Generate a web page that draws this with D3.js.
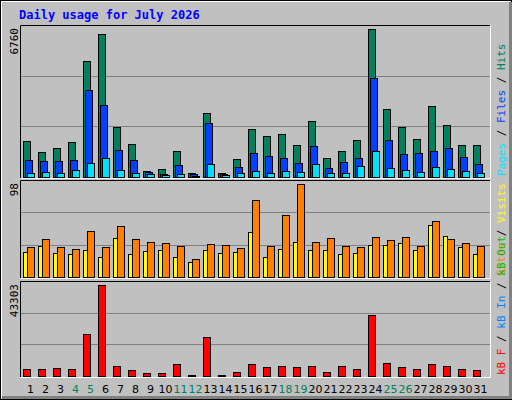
<!DOCTYPE html>
<html><head><meta charset="utf-8">
<script src="https://cdn.jsdelivr.net/npm/d3@7"></script>
<style>body{margin:0;background:#fff}svg{display:block}</style>
</head><body><svg id="c" width="512" height="400"></svg>
<script>
const days = d3.range(1,32).map(String);
const weekend = ["4","5","11","12","18","19","25","26"];
const hits  = [1630,1130,1310,1585,5290,6520,2270,1495,260,350,1175,170,2910,170,810,2180,1860,1950,1450,2545,855,1175,1675,6760,3095,2270,1720,3230,2360,1450,1450];
const files = [760,720,720,760,3960,3280,1220,760,215,130,535,130,2455,130,445,1085,945,855,625,1400,400,670,855,4510,1675,1040,1085,1175,1310,900,580];
const pages = [170,215,170,305,625,855,305,170,130,100,130,60,580,100,170,260,170,260,215,580,170,170,490,1175,400,305,215,445,350,260,170];
const visits= [26,33,25,24,28,21,41,24,27,28,21,16,28,25,26,47,21,30,37,28,28,24,25,34,34,36,28,55,43,32,24];
const sites = [32,40,32,30,48,32,54,40,37,36,33,19,35,34,31,81,33,65,98,37,41,33,32,42,39,42,33,59,40,36,33];
const kbF   = [3480,3480,3950,3480,20070,43303,4900,3000,1580,1580,5850,630,18650,630,2050,5850,4425,4900,4425,4900,2050,4900,3480,29080,6320,4425,3480,5850,4900,3480,3000];
const maxLabels = ["6760","98","43303"];

const svg = d3.select("#c");
// outer frame
svg.append("rect").attr("x",0).attr("y",0).attr("width",512).attr("height",400).attr("fill","#000");
svg.append("rect").attr("x",1).attr("y",1).attr("width",510).attr("height",398).attr("fill","#c0c0c0");
svg.append("path").attr("d","M1.5,398.5V1.5H510.5").attr("stroke","#fff").attr("fill","none");
svg.append("path").attr("d","M2,397.5H510.5V2").attr("stroke","#808080").attr("stroke-width",3).attr("fill","none");

svg.append("text").attr("x",19).attr("y",19).text("Daily usage for July 2026")
  .attr("font-family","DejaVu Sans Mono").attr("font-weight","bold").attr("font-size",12).attr("fill","#0000ff");

const x = d3.scaleBand().domain(days).range([23,488]);
const mono = "DejaVu Sans Mono";

function panel(y0,y1,max,label,series,right){
  svg.append("rect").attr("x",20).attr("y",y0).attr("width",470).attr("height",y1-y0).attr("fill","#c0c0c0");
  svg.append("path").attr("d",`M20.5,${y1}V${y0+0.5}H490`).attr("stroke","#000").attr("fill","none");
  svg.append("path").attr("d",`M20.5,${y1+0.5}H490.5V${y0}`).attr("stroke","#fff").attr("fill","none");
  const base=y1-1;
  const y=d3.scaleLinear().domain([0,max]).range([base,y0+4]);
  const gs=(base-y0)/3;
  [1,2].forEach(i=>svg.append("line").attr("x1",21).attr("x2",490).attr("y1",Math.round(base-gs*i)+0.5).attr("y2",Math.round(base-gs*i)+0.5).attr("stroke","#808080"));
  series.forEach(s=>{
    svg.append("g").selectAll("rect").data(s.data).join("rect")
      .attr("x",(d,i)=>Math.round(x(days[i]))+s.off+0.5)
      .attr("y",d=>Math.round(y(d))+0.5)
      .attr("width",s.w)
      .attr("height",d=>Math.max(0,base-Math.round(y(d))))
      .attr("fill",s.c).attr("stroke","#000");
  });
  svg.append("text").attr("transform",`translate(18,${y0+3}) rotate(-90)`).attr("text-anchor","end")
    .attr("font-family",mono).attr("font-size",11).text(label);
  const t=svg.append("text").attr("transform",`translate(505,${y1-2}) rotate(-90)`)
    .attr("font-family",mono).attr("font-size",11);
  right.forEach(([s,c])=>t.append("tspan").attr("fill",c).text(s));
}

panel(25,178,6760,maxLabels[0],[
  {data:hits,off:0,w:7,c:"#00805c"},
  {data:files,off:2,w:7,c:"#0040ff"},
  {data:pages,off:4,w:7,c:"#00e0ff"}],
  [["Pages","#00e0ff"],[" / ","#000"],["Files","#0040ff"],[" / ","#000"],["Hits","#00805c"]]);
panel(180,278,98,maxLabels[1],[
  {data:visits,off:0,w:4,c:"#ffff00"},
  {data:sites,off:4,w:7,c:"#ff8000"}],
  [["Sites","#ff8000"],[" / ","#000"],["Visits","#ffff00"]]);
panel(281,377,43303,maxLabels[2],[
  {data:kbF,off:0,w:7,c:"#ff0000"}],
  [["kB F","#ff0000"],[" / ","#000"],["kB In","#0080ff"],[" / ","#000"],["kB Out","#00c000"]]);

svg.append("g").selectAll("text").data(days).join("text")
  .attr("x",d=>x(d)+x.bandwidth()/2).attr("y",393).attr("text-anchor","middle")
  .attr("font-family","DejaVu Sans").attr("font-size",11)
  .attr("fill",d=>weekend.includes(d)?"#00805c":"#000").text(d=>d);
</script></body></html>
